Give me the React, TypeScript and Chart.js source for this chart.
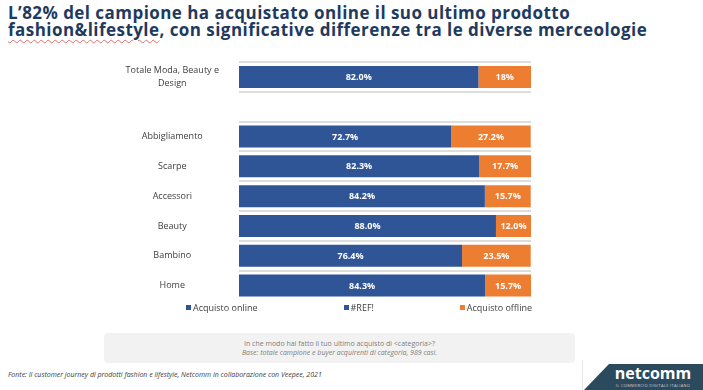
import React, { useEffect, useRef } from "react";
import { Chart, registerables } from "chart.js";

Chart.register(...registerables);

const categories: (string | string[])[] = [
  ["Totale Moda, Beauty e", "Design"],
  "",
  "Abbigliamento",
  "Scarpe",
  "Accessori",
  "Beauty",
  "Bambino",
  "Home",
];
const onlineValues: (number | null)[] = [82.0, null, 72.7, 82.3, 84.2, 88.0, 76.4, 84.3];
const refValues: (number | null)[] = [null, null, null, null, null, null, null, null];
const offlineValues: (number | null)[] = [18, null, 27.2, 17.7, 15.7, 12.0, 23.5, 15.7];
const onlineLabels = ["82.0%", "", "72.7%", "82.3%", "84.2%", "88.0%", "76.4%", "84.3%"];
const offlineLabels = ["18%", "", "27.2%", "17.7%", "15.7%", "12.0%", "23.5%", "15.7%"];
const seriesNames = ["Acquisto online", "#REF!", "Acquisto offline"];
const seriesColors = ["#2F5597", "#2F5597", "#ED7D31"];

const valueLabelPlugin = {
  id: "valueLabels",
  afterDatasetsDraw(chart: any) {
    const ctx = chart.ctx;
    const labelSets = [onlineLabels, [], offlineLabels];
    ctx.save();
    ctx.font = "bold 9px 'Open Sans'";
    ctx.fillStyle = "#ffffff";
    ctx.textAlign = "center";
    ctx.textBaseline = "middle";
    chart.data.datasets.forEach((ds: any, di: number) => {
      const meta = chart.getDatasetMeta(di);
      meta.data.forEach((el: any, i: number) => {
        const txt = (labelSets[di] as string[])[i];
        if (!txt || ds.data[i] == null) return;
        const p = el.getProps(["x", "y", "base"], true);
        ctx.fillText(txt, (p.x + p.base) / 2, p.y + 0.5);
      });
    });
    ctx.restore();
  },
};

export default function App() {
  const canvasRef = useRef<HTMLCanvasElement | null>(null);

  useEffect(() => {
    if (!canvasRef.current) return;
    const chart = new Chart(canvasRef.current, {
      type: "bar",
      data: {
        labels: categories,
        datasets: [
          { label: seriesNames[0], data: onlineValues, backgroundColor: seriesColors[0] },
          { label: seriesNames[1], data: refValues, backgroundColor: seriesColors[1] },
          { label: seriesNames[2], data: offlineValues, backgroundColor: seriesColors[2] },
        ],
      },
      options: {
        indexAxis: "y",
        animation: false,
        responsive: false,
        maintainAspectRatio: false,
        datasets: { bar: { barPercentage: 0.74, categoryPercentage: 1, borderWidth: 0 } },
        layout: { padding: { left: 0, right: 172, top: 12, bottom: 4.5 } },
        plugins: { legend: { display: false }, tooltip: { enabled: false } },
        scales: {
          x: { stacked: true, min: 0, max: 100, display: false },
          y: {
            stacked: true,
            afterFit: (scale: any) => {
              scale.width = 239;
              scale.paddingTop = 0;
              scale.paddingBottom = 0;
            },
            border: { display: false },
            grid: {
              offset: true,
              drawTicks: false,
              lineWidth: 2,
              color: (c: any) => (c.type === "tick" ? "#DDDDDD" : "rgba(0,0,0,0)"),
            },
            ticks: {
              crossAlign: "center",
              padding: 20,
              color: "#404040",
              font: { family: "'Open Sans'", size: 9, lineHeight: 1.4 },
            },
          },
        },
      },
      plugins: [valueLabelPlugin],
    } as any);
    return () => chart.destroy();
  }, []);

  return (
    <div
      style={{
        position: "fixed",
        left: 0,
        top: 0,
        width: 703,
        height: 390,
        overflow: "hidden",
        background: "#ffffff",
        fontFamily: "'Open Sans', sans-serif",
      }}
    >
      <div
        style={{
          position: "absolute",
          left: 8,
          top: 4,
          fontFamily: "'Open Sans', sans-serif",
          fontWeight: 700,
          fontSize: 17,
          lineHeight: "17px",
          letterSpacing: "0.45px",
          color: "#1E3A5F",
          whiteSpace: "nowrap",
        }}
      >
        <div>L’82% del campione ha acquistato online il suo ultimo prodotto</div>
        <div>
          <span
            style={{
              textDecorationLine: "underline",
              textDecorationStyle: "wavy",
              textDecorationColor: "#E07070",
              textDecorationThickness: "1px",
              textUnderlineOffset: "3px",
            }}
          >
            fashion&amp;lifestyle
          </span>
          , con significative differenze tra le diverse merceologie
        </div>
      </div>

      <canvas
        ref={canvasRef}
        width={703}
        height={255}
        style={{ position: "absolute", left: 0, top: 50, width: 703, height: 255 }}
      />

      <div
        style={{
          position: "absolute",
          left: 186,
          width: 346,
          top: 301,
          display: "flex",
          justifyContent: "space-between",
          fontSize: 9,
          lineHeight: "13px",
          color: "#404040",
          whiteSpace: "nowrap",
        }}
      >
        {seriesNames.map((n, i) => (
          <div key={n} style={{ display: "flex", alignItems: "center" }}>
            <span
              style={{
                display: "inline-block",
                width: 5,
                height: 5,
                background: seriesColors[i],
                marginRight: 2,
              }}
            />
            {n}
          </div>
        ))}
      </div>

      <div
        style={{
          position: "absolute",
          left: 104,
          top: 333,
          width: 471,
          height: 30,
          background: "#F2F2F2",
          borderRadius: 4,
          color: "#7F7F7F",
          fontSize: 7,
          lineHeight: "9px",
          textAlign: "center",
          paddingTop: 6,
          boxSizing: "border-box",
        }}
      >
        <div>In che modo hai fatto il tuo ultimo acquisto di &lt;categoria&gt;?</div>
        <div style={{ fontStyle: "italic" }}>
          Base: totale campione e  buyer acquirenti di categoria, 989 casi.
        </div>
      </div>

      <div
        style={{
          position: "absolute",
          left: 8,
          top: 370,
          fontSize: 7,
          lineHeight: "10px",
          fontStyle: "italic",
          color: "#404040",
          whiteSpace: "nowrap",
        }}
      >
        Fonte: Il customer journey di prodotti fashion e lifestyle, Netcomm in collaborazione con Veepee, 2021
      </div>

      <div
        style={{
          position: "absolute",
          left: 582,
          top: 360,
          width: 1,
          height: 30,
          background: "#E6E6E6",
        }}
      />
      <div
        style={{
          position: "absolute",
          left: 584,
          top: 364,
          width: 119,
          height: 26,
          background: "#2C4A5E",
          clipPath: "polygon(21% 0, 100% 0, 100% 100%, 0 100%)",
        }}
      />
      <div
        style={{
          position: "absolute",
          left: 611,
          top: 364,
          width: 84,
          textAlign: "center",
          color: "#ffffff",
          fontWeight: 700,
          fontSize: 16,
          lineHeight: "18px",
        }}
      >
        netcomm
      </div>
      <div
        style={{
          position: "absolute",
          left: 611,
          top: 383,
          width: 84,
          textAlign: "center",
          color: "#C8D0D8",
          fontSize: 4,
          lineHeight: "5px",
          whiteSpace: "nowrap",
          letterSpacing: 0.3,
        }}
      >
        IL COMMERCIO DIGITALE ITALIANO
      </div>
    </div>
  );
}
